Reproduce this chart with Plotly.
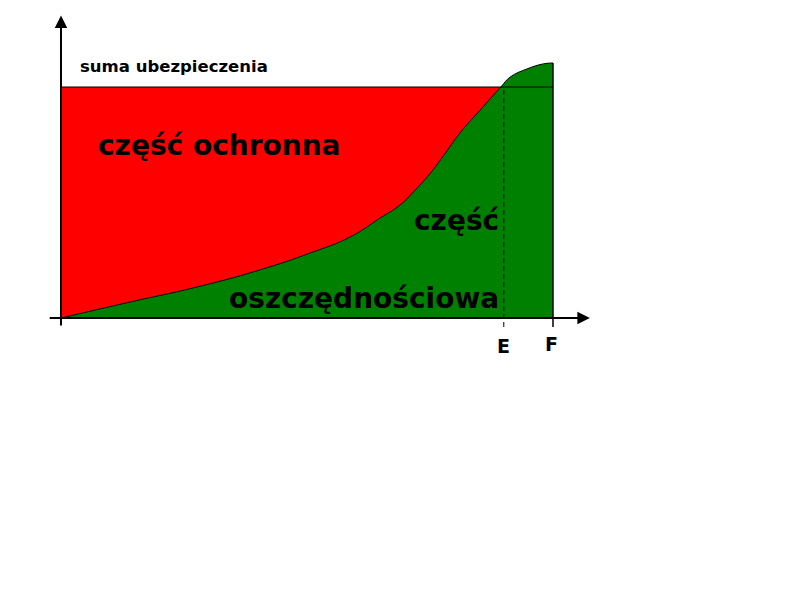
import plotly.graph_objects as go

# values (x: time, E=9, F=10; y: sum insured = 100)
okres = [0, 1.4, 2.76, 4.04, 5.06, 5.87, 6.48, 6.89, 7.2, 7.5, 7.8, 8.11, 8.52, 8.94, 9.13, 9.47, 9.8, 10]
wartosc = [0, 6.9, 13.4, 20.8, 28.1, 35.0, 43.2, 48.9, 55.4, 62.5, 71.0, 80.1, 90.0, 100, 104.3, 107.8, 110.0, 110.4]
suma = 100
punkt_E = 9
punkt_F = 10
idx_E = wartosc.index(suma)

FONT = "DejaVu Sans, Arial, sans-serif"

fig = go.Figure()

# red part: under the sum-insured line
fig.add_trace(go.Scatter(
    x=[okres[0], okres[idx_E]], y=[suma, suma],
    mode="lines", line=dict(width=0, color="red"),
    fill="tozeroy", fillcolor="#ff0000", hoverinfo="skip"
))
# green part: savings curve
fig.add_trace(go.Scatter(
    x=okres, y=wartosc,
    mode="lines", line=dict(width=1, color="black", shape="spline", smoothing=1.3),
    fill="tozeroy", fillcolor="#008000", hoverinfo="skip"
))

shapes = [
    # sum insured line
    dict(type="line", x0=okres[0], x1=punkt_F, y0=suma, y1=suma,
         line=dict(color="black", width=1)),
    # E dashed line
    dict(type="line", x0=punkt_E, x1=punkt_E, y0=-3.9, y1=suma,
         line=dict(color="black", width=1, dash="5px,3px")),
    # F edge + tick
    dict(type="line", x0=punkt_F, x1=punkt_F, y0=-3.9, y1=wartosc[-1],
         line=dict(color="black", width=1.5)),
]

big = dict(family=FONT, size=28, color="black")
annotations = [
    # axes with arrows
    dict(x=0, y=131, ax=0, ay=-3.9, xref="x", yref="y", axref="x", ayref="y",
         text="", showarrow=True, arrowhead=2, arrowsize=1.25, arrowwidth=2,
         arrowcolor="black", standoff=0),
    dict(x=10.75, y=0, ax=-0.26, ay=0, xref="x", yref="y", axref="x", ayref="y",
         text="", showarrow=True, arrowhead=2, arrowsize=1.25, arrowwidth=2,
         arrowcolor="black", standoff=0),
    dict(x=0.34, y=108.7, text="<b>suma ubezpieczenia</b>", showarrow=False,
         xanchor="left", yanchor="middle", font=dict(family=FONT, size=16.5, color="black")),
    dict(x=0.72, y=74.5, text="<b>część ochronna</b>", showarrow=False,
         xanchor="left", yanchor="middle", font=big),
    dict(x=8.95, y=42.0, text="<b>część</b>", showarrow=False,
         xanchor="right", yanchor="middle", font=big),
    dict(x=8.95, y=8.5, text="<b>oszczędnościowa</b>", showarrow=False,
         xanchor="right", yanchor="middle", font=big),
    dict(x=punkt_E, y=-12.3, text="<b>E</b>", showarrow=False,
         xanchor="center", yanchor="middle", font=dict(family=FONT, size=19, color="black")),
    dict(x=punkt_F - 0.03, y=-11.2, text="<b>F</b>", showarrow=False,
         xanchor="center", yanchor="middle", font=dict(family=FONT, size=19, color="black")),
]

# page body has an 8px margin, so the ranges are shifted by that much
fig.update_layout(
    width=800, height=600,
    margin=dict(l=0, r=0, t=0, b=0),
    paper_bgcolor="white", plot_bgcolor="white",
    showlegend=False,
    xaxis=dict(visible=False, range=[-1.077, 15.183], fixedrange=True),
    yaxis=dict(visible=False, range=[-125.54, 134.2], fixedrange=True),
    shapes=shapes,
    annotations=annotations,
)

fig.write_html("out.html")
